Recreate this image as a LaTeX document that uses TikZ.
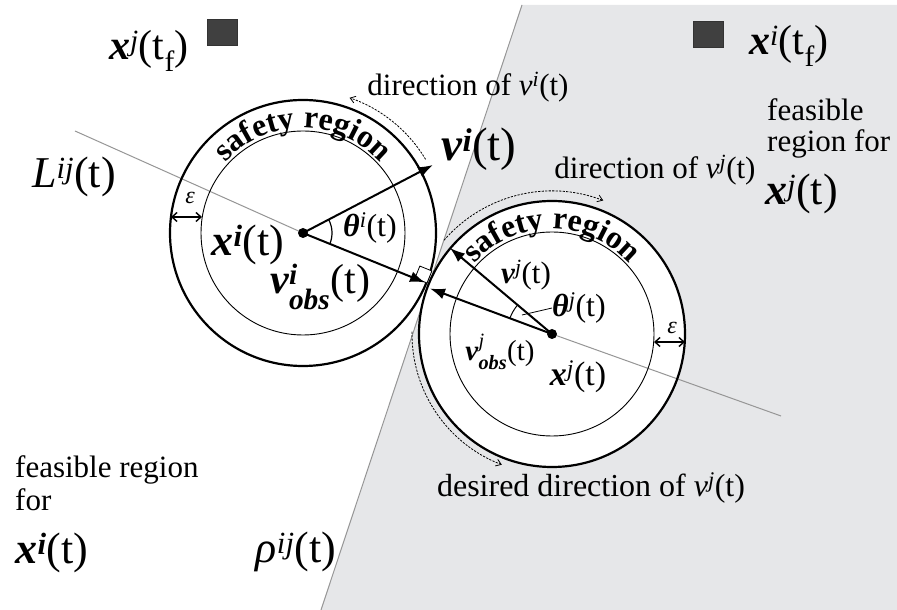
\documentclass[tikz,border=0pt]{standalone}
\usepackage{fontspec}
\setmainfont{Liberation Serif}
\usepackage{amsmath}
\usepackage{tikz}
\usetikzlibrary{arrows.meta,positioning,calc,decorations.text}

\definecolor{regiongray}{RGB}{230,231,233}
\definecolor{goalgray}{RGB}{64,64,64}
\definecolor{linegray}{RGB}{150,150,150}

\newcommand{\fsz}[1]{\fontsize{#1}{#1}\selectfont}
\newcommand{\bx}{\textbf{\textit{x}}}
\newcommand{\bv}{\textbf{\textit{v}}}
\newcommand{\bth}{\textbf{\textit{θ}}}

\begin{document}
\begin{tikzpicture}[
  x=1pt, y=1pt,
  ringout/.style={line width=2.2pt},
  ringin/.style={line width=0.9pt},
  vec/.style={line width=2pt,-{Latex[length=15pt,width=11pt]}},
  epsarr/.style={line width=1.4pt,{Straight Barb[length=5pt,width=9pt]}-{Straight Barb[length=5pt,width=9pt]}},
  sweep/.style={line width=0.8pt,dash pattern=on 2.2pt off 1.3pt,-{Straight Barb[length=5pt,width=7pt]}},
  centerdot/.style={circle,fill,inner sep=0pt,minimum size=10pt},
  goal/.style={draw=black!80,fill=goalgray,minimum width=30pt,minimum height=26pt,inner sep=0pt},
  bigtext/.style={font=\fsz{44},inner sep=0pt},
  midtext/.style={font=\fsz{31},inner sep=0pt},
  smalltext/.style={font=\fsz{24},inner sep=0pt},
  safety/.style={decorate,decoration={text along path,text align=center,
                 text={|\fsz{32}\bfseries|safety region}}}
]
  \useasboundingbox (0,0) rectangle (897,610);

  % centres, contact point and line ends
  \coordinate (ci) at (303,377);
  \coordinate (cj) at (552,276);
  \coordinate (contact) at (427,327);
  \coordinate (rhotop) at (522,605);
  \coordinate (rhobot) at (321,0);
  \coordinate (Lstart) at (75,479);
  \coordinate (Lend) at (781,194);

  % feasible region of x^j
  \fill[regiongray] (rhotop) -- (897,605) -- (897,0) -- (rhobot) -- cycle;
  \draw[linegray,line width=1pt] (rhotop) -- (rhobot);

  % safety regions
  \fill[white] (ci) circle[radius=133pt];
  \fill[white] (cj) circle[radius=133pt];
  \draw[linegray,line width=1pt] (Lstart) -- (ci);
  \draw[linegray,line width=1pt] (cj) -- (Lend);
  \draw[ringout] (ci) circle[radius=133pt];
  \draw[ringin] (ci) circle[radius=102pt];
  \draw[ringout] (cj) circle[radius=133pt];
  \draw[ringin] (cj) circle[radius=102pt];
  \path[safety] ($(ci)+(165:105pt)$) arc[start angle=165,end angle=15,radius=105pt];
  \path[safety] ($(cj)+(165:105pt)$) arc[start angle=165,end angle=15,radius=105pt];

  % right angle at the contact point
  \draw[line width=0.8pt,fill=white,shift={(contact)},rotate=-22.1] (0,0) rectangle (-13,13);

  % velocity vectors
  \coordinate (vitip) at (433,445);
  \coordinate (vjtip) at (450,362);
  \coordinate (obsitip) at (425,327.5);
  \coordinate (obsjtip) at (430,321.5);
  \draw[vec] (ci) -- (vitip);
  \draw[vec] (ci) -- (obsitip);
  \draw[vec] (cj) -- (vjtip);
  \draw[vec] (cj) -- (obsjtip);
  \node[centerdot] (dotci) at (ci) {};
  \node[centerdot] (dotcj) at (cj) {};

  % angles
  \draw[line width=1.2pt] ($(ci)+(-22.5:29pt)$) arc[start angle=-22.5,end angle=27.6,radius=29pt];
  \draw[line width=1pt] ($(cj)+(140:45pt)$) arc[start angle=140,end angle=159.7,radius=45pt];

  % epsilon widths
  \coordinate (epsia) at (171,393);
  \coordinate (epsib) at (202,393);
  \coordinate (epsja) at (654,268);
  \coordinate (epsjb) at (685,268);
  \draw[epsarr] (epsia) -- (epsib);
  \draw[epsarr] (epsja) -- (epsjb);
  \node[smalltext] (epsi) at (190,412) {\textit{ε}};
  \node[smalltext] (epsj) at (672,282) {\textit{ε}};

  % turning directions
  \draw[sweep] ($(ci)+(31:143pt)$) arc[start angle=31,end angle=71,radius=143pt];
  \draw[sweep] ($(cj)+(139:143pt)$) arc[start angle=139,end angle=69,radius=143pt];
  \draw[sweep] ($(cj)+(179:140pt)$) arc[start angle=179,end angle=249,radius=140pt];

  % goals
  \node[goal] (goalj) at (222,578) {};
  \node[goal] (goali) at (708,576) {};
  \node[font=\fsz{42},inner sep=0pt] (xjf) at (149,559) {\bx$^{\textit{j}}$(t$_{\text{f}}$)};
  \node[font=\fsz{42},inner sep=0pt] (xif) at (789,564) {\bx$^{\textit{i}}$(t$_{\text{f}}$)};

  % labels
  \node[bigtext] (Lij) at (74,433) {\textit{L}$^{\textit{ij}}$(t)};
  \node[font=\fsz{47},inner sep=0pt] (vi) at (479,461) {\bv$^{\textbf{\textit{i}}}$(t)};
  \node[midtext] (dirvi) at (468,523) {direction of \textit{v}$^{\textit{i}}$(t)};
  \node[midtext] (dirvj) at (655,440) {direction of \textit{v}$^{\textit{j}}$(t)};
  \node[midtext,align=left,anchor=north west] (feasj) at (767,512) {feasible\\region for};
  \node[bigtext,anchor=north west] (xjfeas) at (765,436) {\bx$^{\textit{j}}$(t)};
  \node[font=\fontsize{31}{33}\selectfont,inner sep=0pt,align=left,anchor=north west] (feasi) at (15,155) {feasible region\\for};
  \node[bigtext] (xifeas) at (52,57) {\bx$^{\textbf{\textit{i}}}$(t)};
  \node[bigtext] (rho) at (296,58) {\textit{ρ}$^{\textit{ij}}$(t)};
  \node[bigtext] (xi) at (248,365) {\bx$^{\textbf{\textit{i}}}$(t)};
  \node[font=\fsz{42},inner sep=0pt] (vobsi) at (320,323) {\bv$^{\textbf{\textit{i}}}_{\textbf{\textit{obs}}}$(t)};
  \node[font=\fsz{32},inner sep=0pt] (thetai) at (370,382) {\bth$^{\textit{i}}$(t)};
  \node[font=\fsz{31},inner sep=0pt] (vj) at (526,335) {\bv$^{\textit{j}}$(t)};
  \node[font=\fsz{32},inner sep=0pt,anchor=west] (thetaj) at (552,302) {\bth$^{\textit{j}}$(t)};
  \coordinate (thetajfoot) at (522,295);
  \draw[line width=0.8pt] (thetajfoot) -- (thetaj.west);
  \node[font=\fsz{29},inner sep=0pt] (vobsj) at (500,258) {\bv$^{\textit{j}}_{\textbf{\textit{obs}}}$(t)};
  \node[font=\fsz{34},inner sep=0pt] (xj) at (578,233) {\bx$^{\textit{j}}$(t)};
  \node[font=\fsz{32},inner sep=0pt] (desired) at (591,122) {desired direction of \textit{v}$^{\textit{j}}$(t)};
\end{tikzpicture}
\end{document}
